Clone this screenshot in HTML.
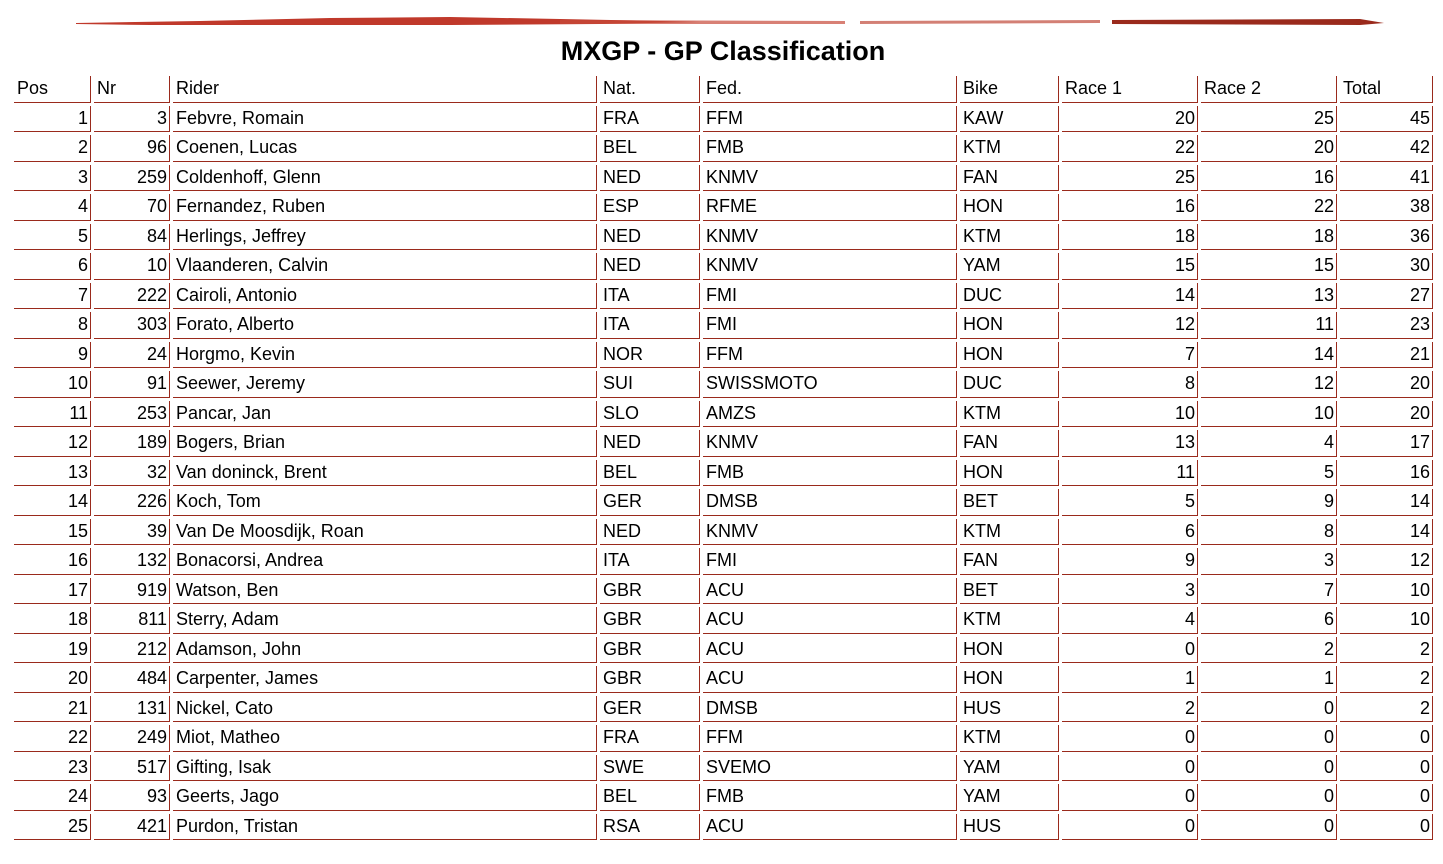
<!DOCTYPE html>
<html><head><meta charset="utf-8"><style>
body{margin:0;width:1443px;height:864px;background:#fff;font-family:"Liberation Sans",Arial,sans-serif;position:relative;overflow:hidden}
h1{position:absolute;top:34px;left:0;width:1446px;margin:0;text-align:center;font-size:27px;font-weight:bold;line-height:34px;color:#000}
table{position:absolute;left:11px;top:73px;width:1425px;table-layout:fixed;border-collapse:separate;border-spacing:3px;font-size:18px;color:#000}
td{box-sizing:border-box;border-right:1.5px solid #9a2a1c;border-bottom:1.5px solid #9a2a1c;height:26.5px;padding:0 2px 0 3px;line-height:25px;white-space:nowrap;overflow:hidden}
td.r{text-align:right}
</style></head><body>
<svg width="1443" height="40" style="position:absolute;left:0;top:0">
<path d="M76 23 L200 21 L330 18 L450 17 L560 19 L660 21 L700 22 L600 24 L450 25 L300 25 L150 25 L76 24Z" fill="#c0392b"/>
<path d="M560 20 L845 21 L845 24 L560 24Z" fill="#c84a3a" opacity=".7"/>
<path d="M860 21 L1100 20 L1100 23 L860 24Z" fill="#c04a3a" opacity=".7"/>
<path d="M1112 20 L1360 19 L1384 23 L1360 25 L1112 24Z" fill="#9a2a1c"/>
</svg>
<h1>MXGP - GP Classification</h1>
<table>
<colgroup><col style="width:77px"><col style="width:76px"><col style="width:424px"><col style="width:100px"><col style="width:254px"><col style="width:99px"><col style="width:136px"><col style="width:136px"><col style="width:93px"></colgroup>
<tr><td>Pos</td><td>Nr</td><td>Rider</td><td>Nat.</td><td>Fed.</td><td>Bike</td><td>Race 1</td><td>Race 2</td><td>Total</td></tr>
<tr><td class="r">1</td><td class="r">3</td><td>Febvre, Romain</td><td>FRA</td><td>FFM</td><td>KAW</td><td class="r">20</td><td class="r">25</td><td class="r">45</td></tr>
<tr><td class="r">2</td><td class="r">96</td><td>Coenen, Lucas</td><td>BEL</td><td>FMB</td><td>KTM</td><td class="r">22</td><td class="r">20</td><td class="r">42</td></tr>
<tr><td class="r">3</td><td class="r">259</td><td>Coldenhoff, Glenn</td><td>NED</td><td>KNMV</td><td>FAN</td><td class="r">25</td><td class="r">16</td><td class="r">41</td></tr>
<tr><td class="r">4</td><td class="r">70</td><td>Fernandez, Ruben</td><td>ESP</td><td>RFME</td><td>HON</td><td class="r">16</td><td class="r">22</td><td class="r">38</td></tr>
<tr><td class="r">5</td><td class="r">84</td><td>Herlings, Jeffrey</td><td>NED</td><td>KNMV</td><td>KTM</td><td class="r">18</td><td class="r">18</td><td class="r">36</td></tr>
<tr><td class="r">6</td><td class="r">10</td><td>Vlaanderen, Calvin</td><td>NED</td><td>KNMV</td><td>YAM</td><td class="r">15</td><td class="r">15</td><td class="r">30</td></tr>
<tr><td class="r">7</td><td class="r">222</td><td>Cairoli, Antonio</td><td>ITA</td><td>FMI</td><td>DUC</td><td class="r">14</td><td class="r">13</td><td class="r">27</td></tr>
<tr><td class="r">8</td><td class="r">303</td><td>Forato, Alberto</td><td>ITA</td><td>FMI</td><td>HON</td><td class="r">12</td><td class="r">11</td><td class="r">23</td></tr>
<tr><td class="r">9</td><td class="r">24</td><td>Horgmo, Kevin</td><td>NOR</td><td>FFM</td><td>HON</td><td class="r">7</td><td class="r">14</td><td class="r">21</td></tr>
<tr><td class="r">10</td><td class="r">91</td><td>Seewer, Jeremy</td><td>SUI</td><td>SWISSMOTO</td><td>DUC</td><td class="r">8</td><td class="r">12</td><td class="r">20</td></tr>
<tr><td class="r">11</td><td class="r">253</td><td>Pancar, Jan</td><td>SLO</td><td>AMZS</td><td>KTM</td><td class="r">10</td><td class="r">10</td><td class="r">20</td></tr>
<tr><td class="r">12</td><td class="r">189</td><td>Bogers, Brian</td><td>NED</td><td>KNMV</td><td>FAN</td><td class="r">13</td><td class="r">4</td><td class="r">17</td></tr>
<tr><td class="r">13</td><td class="r">32</td><td>Van doninck, Brent</td><td>BEL</td><td>FMB</td><td>HON</td><td class="r">11</td><td class="r">5</td><td class="r">16</td></tr>
<tr><td class="r">14</td><td class="r">226</td><td>Koch, Tom</td><td>GER</td><td>DMSB</td><td>BET</td><td class="r">5</td><td class="r">9</td><td class="r">14</td></tr>
<tr><td class="r">15</td><td class="r">39</td><td>Van De Moosdijk, Roan</td><td>NED</td><td>KNMV</td><td>KTM</td><td class="r">6</td><td class="r">8</td><td class="r">14</td></tr>
<tr><td class="r">16</td><td class="r">132</td><td>Bonacorsi, Andrea</td><td>ITA</td><td>FMI</td><td>FAN</td><td class="r">9</td><td class="r">3</td><td class="r">12</td></tr>
<tr><td class="r">17</td><td class="r">919</td><td>Watson, Ben</td><td>GBR</td><td>ACU</td><td>BET</td><td class="r">3</td><td class="r">7</td><td class="r">10</td></tr>
<tr><td class="r">18</td><td class="r">811</td><td>Sterry, Adam</td><td>GBR</td><td>ACU</td><td>KTM</td><td class="r">4</td><td class="r">6</td><td class="r">10</td></tr>
<tr><td class="r">19</td><td class="r">212</td><td>Adamson, John</td><td>GBR</td><td>ACU</td><td>HON</td><td class="r">0</td><td class="r">2</td><td class="r">2</td></tr>
<tr><td class="r">20</td><td class="r">484</td><td>Carpenter, James</td><td>GBR</td><td>ACU</td><td>HON</td><td class="r">1</td><td class="r">1</td><td class="r">2</td></tr>
<tr><td class="r">21</td><td class="r">131</td><td>Nickel, Cato</td><td>GER</td><td>DMSB</td><td>HUS</td><td class="r">2</td><td class="r">0</td><td class="r">2</td></tr>
<tr><td class="r">22</td><td class="r">249</td><td>Miot, Matheo</td><td>FRA</td><td>FFM</td><td>KTM</td><td class="r">0</td><td class="r">0</td><td class="r">0</td></tr>
<tr><td class="r">23</td><td class="r">517</td><td>Gifting, Isak</td><td>SWE</td><td>SVEMO</td><td>YAM</td><td class="r">0</td><td class="r">0</td><td class="r">0</td></tr>
<tr><td class="r">24</td><td class="r">93</td><td>Geerts, Jago</td><td>BEL</td><td>FMB</td><td>YAM</td><td class="r">0</td><td class="r">0</td><td class="r">0</td></tr>
<tr><td class="r">25</td><td class="r">421</td><td>Purdon, Tristan</td><td>RSA</td><td>ACU</td><td>HUS</td><td class="r">0</td><td class="r">0</td><td class="r">0</td></tr>
</table>
</body></html>
